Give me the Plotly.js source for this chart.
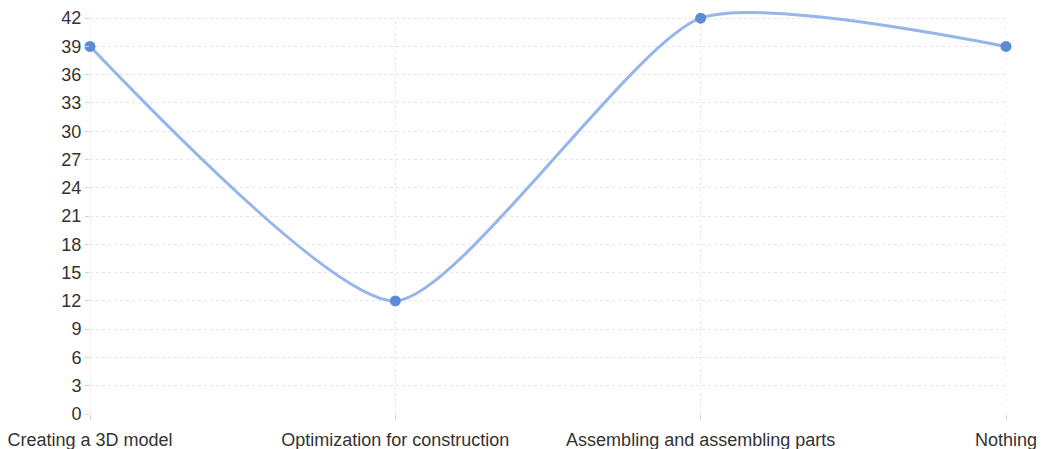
<!DOCTYPE html>
<html>
<head>
<meta charset="utf-8">
<script src="https://cdn.plot.ly/plotly-3.0.1.min.js"></script>
<style>html,body{margin:0;padding:0;background:#fff;}#chart{width:1042px;height:449px;}</style>
</head>
<body>
<div id="chart"></div>
<script>
const categories = ["Creating a 3D model", "Optimization for construction", "Assembling and assembling parts", "Nothing"];
const values = [39, 12, 42, 39];
const yTicks = [0, 3, 6, 9, 12, 15, 18, 21, 24, 27, 30, 33, 36, 39, 42];
const yMax = yTicks[yTicks.length - 1];

const trace = {
  x: categories,
  y: values,
  type: "scatter",
  mode: "lines+markers",
  line: {shape: "spline", smoothing: 0.6, color: "#96b5ea", width: 3},
  marker: {color: "#5b8bd8", size: 11},
  cliponaxis: false,
  hoverinfo: "x+y"
};

const vGrid = categories.map((c, i) => ({
  type: "line", xref: "x", yref: "y", x0: i, x1: i, y0: 0, y1: yMax,
  layer: "below",
  line: {color: i === 0 ? "#eeeeee" : "#e6e6e6", width: 1, dash: i === 0 ? "solid" : "dot"}
}));

const layout = {
  width: 1042,
  height: 449,
  margin: {l: 90, r: 36, t: 4, b: 35},
  paper_bgcolor: "#ffffff",
  plot_bgcolor: "#ffffff",
  showlegend: false,
  font: {family: "Liberation Sans, Arial, sans-serif", size: 18, color: "#333333"},
  xaxis: {
    type: "category",
    range: [0, 3],
    showgrid: false,
    zeroline: false,
    showline: false,
    ticks: "outside",
    ticklen: 5,
    tickcolor: "#d0d0d0",
    ticklabelstandoff: 4,
    tickfont: {size: 18, color: "#333333"},
    automargin: false
  },
  yaxis: {
    range: [0, 43.5],
    tickvals: yTicks,
    showgrid: true,
    gridcolor: "#e6e6e6",
    griddash: "dot",
    zeroline: false,
    showline: false,
    ticks: "outside",
    ticklen: 4,
    tickcolor: "#d0d0d0",
    tickfont: {size: 18, color: "#333333"},
    automargin: false
  },
  shapes: vGrid
};

Plotly.newPlot("chart", [trace], layout, {displayModeBar: false, staticPlot: true});
</script>
</body>
</html>
